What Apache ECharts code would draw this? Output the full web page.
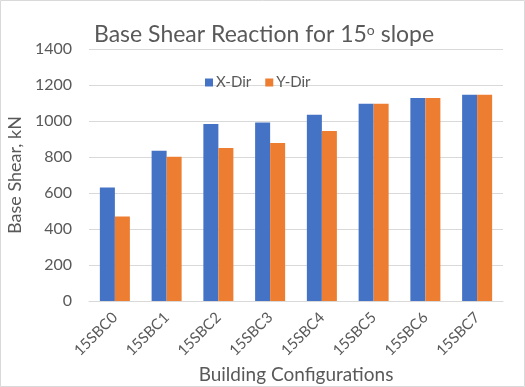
<!DOCTYPE html>
<html><head><meta charset="utf-8">
<script src="https://cdn.jsdelivr.net/npm/echarts@6/dist/echarts.min.js"></script>
<style>html,body{margin:0;padding:0;background:#fff}#c{width:525px;height:387px}</style>
</head><body><div id="c"></div>
<script>
const categories = ['15SBC0','15SBC1','15SBC2','15SBC3','15SBC4','15SBC5','15SBC6','15SBC7'];
const xDir = [630, 835, 983, 991, 1035, 1096, 1128, 1146];
const yDir = [470, 802, 850, 878, 944, 1096, 1128, 1146];
const yTicks = [0, 200, 400, 600, 800, 1000, 1200, 1400];
const FONT = 'Lato';
const chart = echarts.init(document.getElementById('c'));
chart.setOption({
  backgroundColor: '#fff',
  textStyle: {fontFamily: FONT},
  graphic: [{type:'rect', shape:{x:0.5,y:0.5,width:524,height:386}, style:{fill:'none', stroke:'#d9d9d9', lineWidth:1}, silent:true}],
  title: {
    text: '{a|Base Shear Reaction for 15}{s|o}{a| slope}',
    left: 89, top: 18,
    textStyle: {rich: {
      a: {fontFamily: FONT, fontSize: 23, fontWeight: 'normal', color: '#595959', verticalAlign:'bottom'},
      s: {fontFamily: FONT, fontSize: 14, fontWeight: 'normal', color: '#595959', verticalAlign:'top', padding:[0,0,9,0]}
    }}
  },
  legend: {
    data: ['X-Dir','Y-Dir'], top: 70, left: 200,
    itemWidth: 8, itemHeight: 8, itemGap: 14,
    icon: 'rect',
    textStyle: {fontFamily: FONT, fontSize: 15, color: '#595959', padding:[0,0,0,-2]}
  },
  grid: {left: 89, right: 22, top: 49, bottom: 86, containLabel: false, outerBoundsMode: 'none'},
  xAxis: {
    type: 'category', data: categories,
    name: 'Building Configurations', nameLocation: 'middle', nameGap: 63,
    nameTextStyle: {fontFamily: FONT, fontSize: 19, color: '#595959'},
    axisLine: {lineStyle: {color: '#d9d9d9'}},
    axisTick: {show: false},
    axisLabel: {rotate: 45, fontFamily: FONT, fontSize: 15, color: '#595959', margin: 14}
  },
  yAxis: {
    type: 'value', min: 0, max: 1400, interval: 200,
    name: 'Base Shear, kN', nameLocation: 'middle', nameGap: 54,
    nameTextStyle: {fontFamily: FONT, fontSize: 18, color: '#595959'},
    axisLine: {show: false}, axisTick: {show: false},
    splitLine: {lineStyle: {color: '#d9d9d9', width: 1}},
    axisLabel: {fontFamily: FONT, fontSize: 16, color: '#595959', margin: 17,
      formatter: v => yTicks.includes(v) ? String(v) : ''}
  },
  series: [
    {name: 'X-Dir', type: 'bar', data: xDir, itemStyle: {color: '#4472c4'}, barGap: '0%', barCategoryGap: '42%'},
    {name: 'Y-Dir', type: 'bar', data: yDir, itemStyle: {color: '#ed7d31'}, barGap: '0%', barCategoryGap: '42%'}
  ],
  animation: false
});
</script></body></html>
